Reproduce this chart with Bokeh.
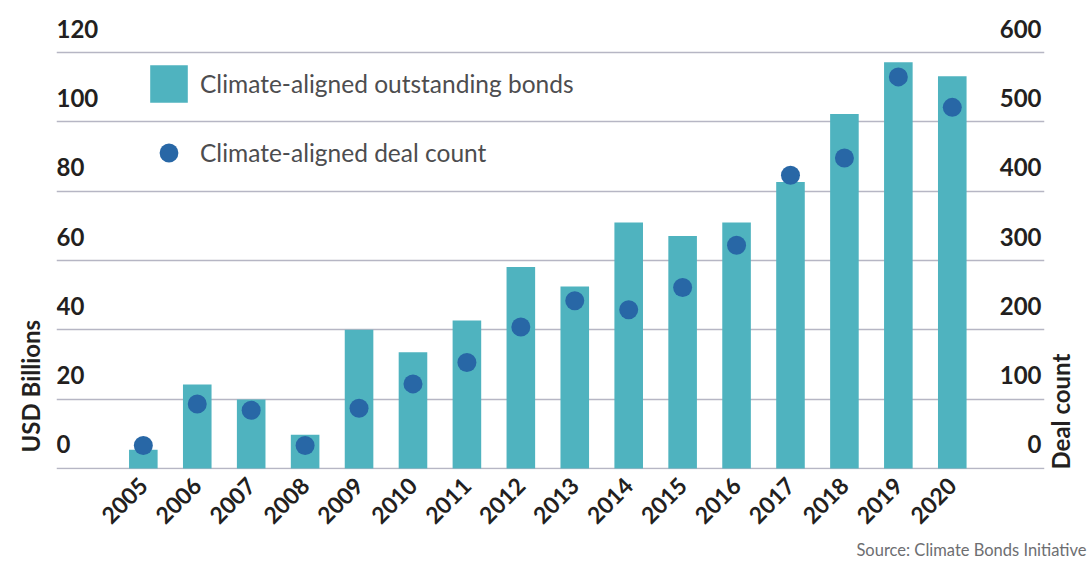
import math
from bokeh.plotting import figure
from bokeh.models import Range1d, FixedTicker, Legend, LegendItem, LinearAxis, Title
from bokeh.core.properties import value
from bokeh.embed import file_html
from bokeh.resources import INLINE

# ---- data ----
years = [2005, 2006, 2007, 2008, 2009, 2010, 2011, 2012, 2013, 2014, 2015, 2016, 2017, 2018, 2019, 2020]
bonds_usd_bn = [5.4, 24.2, 19.9, 9.7, 40.0, 33.5, 42.7, 58.1, 52.5, 71.0, 67.1, 71.0, 82.7, 102.3, 117.2, 113.2]
deal_count = [33, 93, 84, 33, 87, 122, 153, 204, 242, 229, 261, 322, 423, 448, 565, 521]
left_ticks = [0, 20, 40, 60, 80, 100, 120]
right_ticks = [0, 100, 200, 300, 400, 500, 600]
year_labels = [str(y) for y in years]

# ---- styling ----
FONT = "Lato"
BAR_COLOR = "#4fb3bf"
DOT_COLOR = "#2867a6"
GRID_COLOR = "#b6b6c4"
TXT_DARK = "#231f20"
TXT_GRAY = "#4d4d4f"

x_start, x_end = 2003.39, 2021.71
y_start, y_end = -0.3, 131.0
ratio = 5.0  # deal count per USD bn on the right axis

p = figure(width=1092, height=565, output_backend="svg", toolbar_location=None,
           x_range=Range1d(x_start, x_end), y_range=Range1d(y_start, y_end),
           y_axis_location=None,
           min_border_left=56, min_border_right=46, min_border_top=14, min_border_bottom=96)
p.extra_y_ranges = {"count": Range1d(y_start * ratio, y_end * ratio)}
p.outline_line_color = None
p.background_fill_color = "white"

# grid
p.xgrid.visible = False
p.ygrid.ticker = FixedTicker(ticks=left_ticks)
p.ygrid.grid_line_color = GRID_COLOR
p.ygrid.grid_line_width = 1.5

# x axis
xa = p.xaxis[0]
xa.ticker = FixedTicker(ticks=years)
xa.major_label_overrides = {y: s for y, s in zip(years, year_labels)}
xa.axis_line_color = None
xa.major_tick_line_color = None
xa.minor_tick_line_color = None
xa.major_tick_out = 0
xa.major_tick_in = 0
xa.major_label_orientation = math.pi / 4
xa.major_label_standoff = 12
xa.major_label_text_font = FONT
xa.major_label_text_font_style = "bold"
xa.major_label_text_font_size = "23px"
xa.major_label_text_color = TXT_DARK

# bars and dots
bars = p.vbar(x=years, top=bonds_usd_bn, width=0.53, fill_color=BAR_COLOR, line_color=None)
dots = p.scatter(x=years, y=deal_count, size=19, fill_color=DOT_COLOR, line_color=None,
                 y_range_name="count")

# tick labels (placed above the grid lines, inside the plot area)
p.text(x=[x_start] * len(left_ticks), y=left_ticks, text=[str(t) for t in left_ticks],
       text_align="left", text_baseline="alphabetic", y_offset=-24,
       text_font=value(FONT), text_font_style="bold", text_font_size="24px", text_color=TXT_DARK)
p.text(x=[x_end] * len(right_ticks), y=right_ticks, text=[str(t) for t in right_ticks],
       y_range_name="count", text_align="right", text_baseline="alphabetic", x_offset=-3, y_offset=-24,
       text_font=value(FONT), text_font_style="bold", text_font_size="24px", text_color=TXT_DARK)

# legend
legend = Legend(items=[LegendItem(label="Climate-aligned outstanding bonds", renderers=[bars]),
                       LegendItem(label="Climate-aligned deal count", renderers=[dots])],
                location=(89, 293), glyph_width=47, glyph_height=47, label_height=47,
                spacing=22, padding=0, margin=0, label_standoff=8,
                border_line_color=None, background_fill_alpha=0,
                label_text_font=FONT, label_text_font_size="24.5px", label_text_color=TXT_GRAY)
p.add_layout(legend)

# left axis title
p.add_layout(Title(text="USD Billions", align="left", offset=17, standoff=24,
                   text_font=FONT, text_font_style="bold", text_font_size="24px",
                   text_color=TXT_DARK), "left")

# right axis carrying the "Deal count" title
ra = LinearAxis(y_range_name="count", ticker=FixedTicker(ticks=[]), axis_line_color=None,
                major_tick_line_color=None, minor_tick_line_color=None,
                major_tick_out=0, major_tick_in=0,
                axis_label="Deal count", axis_label_standoff=16, axis_label_align="start",
                axis_label_orientation=math.pi / 2,
                axis_label_text_font=FONT, axis_label_text_font_style="bold",
                axis_label_text_font_size="24px", axis_label_text_color=TXT_DARK)
p.add_layout(ra, "right")

# source note
p.add_layout(Title(text="Source: Climate Bonds Initiative", align="right", offset=-42, standoff=7,
                   text_font=FONT, text_font_style="normal", text_font_size="16.5px",
                   text_color="#6d6e71"), "below")

open("out.html", "w").write(file_html(p, INLINE))
